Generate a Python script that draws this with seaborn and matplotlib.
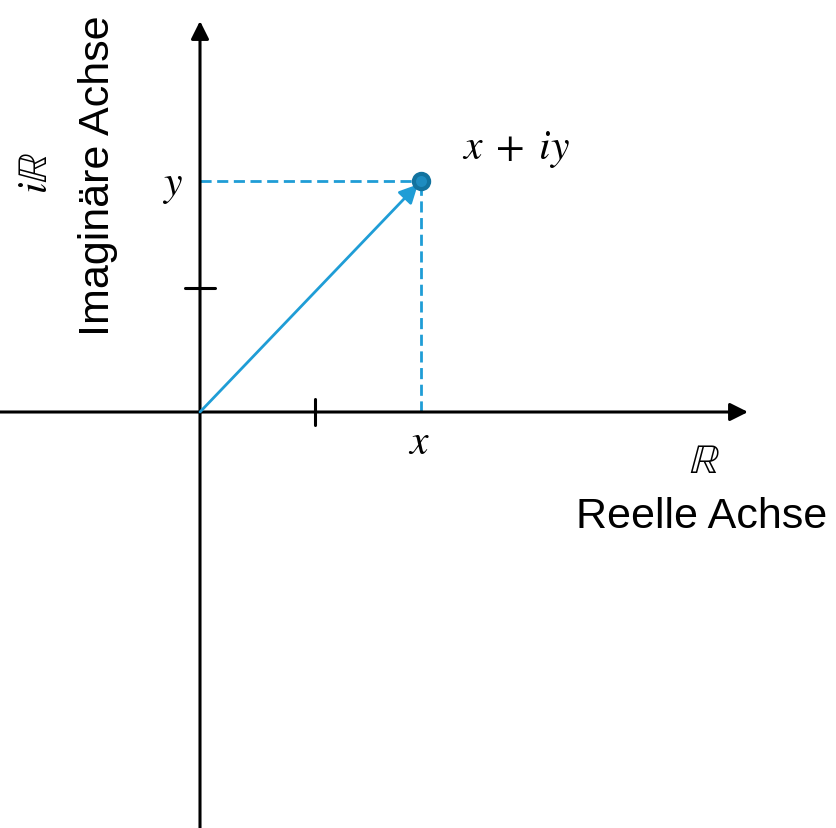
import matplotlib
matplotlib.use("Agg")
import pandas as pd
import matplotlib.pyplot as plt
import seaborn as sns

# point z = x + iy and the unit ticks
re_part = 1.92
im_part = 1.86
unit_ticks = [1]
axis_names = ["Reelle Achse", "Imaginäre Achse"]
axis_symbols = [r"$\mathbb{R}$", r"$i\mathbb{R}$"]
point_labels = [r"$x$", r"$y$", r"$x\;+\;iy$"]

BLUE = "#1f9dd6"
DOT = "#12739f"

sns.set_theme(style="white")
plt.rcParams["font.family"] = ["Liberation Sans", "DejaVu Sans"]
plt.rcParams["mathtext.fontset"] = "stix"
plt.rcParams["text.color"] = "black"

fig = plt.figure(figsize=(8.36, 8.29), dpi=100)
ax = fig.add_axes([0, 0, 1, 1])
ax.set_xlim(-200 / 115, 636 / 115)
ax.set_ylim(-416 / 124, 413 / 124)
ax.axis("off")

# coordinate axes with arrow heads
arrow = dict(arrowstyle="-|>", color="black", lw=2.2, mutation_scale=27,
             shrinkA=0, shrinkB=0)
ax.annotate("", xy=(548 / 115, 0), xytext=(-200 / 115, 0), arrowprops=arrow)
ax.annotate("", xy=(0, 391 / 124), xytext=(0, -416 / 124), arrowprops=arrow)

# unit ticks
for t in unit_ticks:
    ax.plot([t, t], [-13 / 124, 13 / 124], color="black", lw=2.2)
    ax.plot([-15 / 115, 15 / 115], [t, t], color="black", lw=2.2)

# dashed projections
df_h = pd.DataFrame({"x": [0, re_part], "y": [im_part, im_part]})
df_v = pd.DataFrame({"x": [re_part, re_part], "y": [0, im_part]})
for d in (df_h, df_v):
    sns.lineplot(data=d, x="x", y="y", ax=ax, color=BLUE, lw=2,
                 estimator=None, sort=False, linestyle=(0, (4, 2)))

# vector from origin
ax.annotate("", xy=(re_part, im_part), xytext=(0, 0),
            arrowprops=dict(arrowstyle="-|>", color=BLUE, lw=2,
                            mutation_scale=28, shrinkA=0, shrinkB=3))
sns.scatterplot(x=[re_part], y=[im_part], ax=ax, s=120, color="#1e8cc0",
                edgecolor=DOT, linewidth=3, zorder=5)

# labels
tr = ax.transAxes
ax.text(419 / 836, 1 - 443 / 829, point_labels[0], transform=tr,
        fontsize=30, ha="center", va="center")
ax.text(172 / 836, 1 - 186 / 829, point_labels[1], transform=tr,
        fontsize=30, ha="center", va="center")
ax.text(516 / 836, 1 - 150 / 829, point_labels[2], transform=tr,
        fontsize=30, ha="center", va="center")
ax.text(704 / 836, 1 - 462 / 829, axis_symbols[0], transform=tr,
        fontsize=30, ha="center", va="center")
ax.text(702 / 836, 1 - 517 / 829, axis_names[0], transform=tr,
        fontsize=31, ha="center", va="center")
ax.text(36 / 836, 1 - 173 / 829, axis_symbols[1], transform=tr,
        fontsize=30, ha="center", va="center", rotation=90)
ax.text(98 / 836, 1 - 176 / 829, axis_names[1], transform=tr,
        fontsize=31, ha="center", va="center", rotation=90)

fig.savefig("out.png", dpi=100)
